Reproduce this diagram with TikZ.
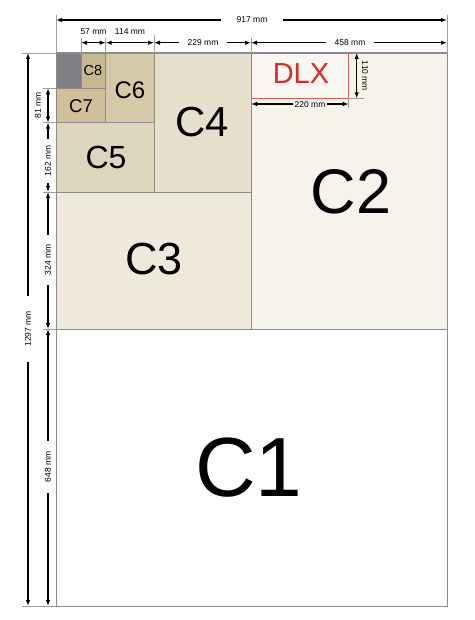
\documentclass[tikz,border=0pt]{standalone}
\usepackage{fontspec}
\setmainfont{Liberation Sans}
\usetikzlibrary{arrows.meta}
\definecolor{cgray}{HTML}{7F8083}
\definecolor{cceight}{HTML}{C9B78F}
\definecolor{ccseven}{HTML}{CFBF9A}
\definecolor{ccsix}{HTML}{D6C9A8}
\definecolor{ccfive}{HTML}{DED5BD}
\definecolor{ccfour}{HTML}{E6DFCC}
\definecolor{ccthree}{HTML}{EEE9DB}
\definecolor{cctwo}{HTML}{F6F3EB}
\definecolor{dlxfill}{HTML}{F9F5F1}
\definecolor{bordergray}{HTML}{8C8C8C}
\definecolor{extgray}{HTML}{A0A0A0}
\definecolor{dlxred}{HTML}{D42B2B}
\definecolor{dlxline}{HTML}{D86060}
\begin{document}
\begin{tikzpicture}[x=1pt,y=-1pt,
  dim/.style={line width=1.1pt,{Latex[length=6pt,width=4.5pt]}-{Latex[length=6pt,width=4.5pt]}},
  ext/.style={draw=extgray,line width=0.6pt},
  box/.style={draw=bordergray,line width=0.7pt},
  lab/.style={font=\fontsize{8.5}{9}\selectfont,inner sep=0pt},
  gap/.style={lab,fill=white,inner xsep=#1,inner ysep=3pt},
  big/.style={font=\fontsize{#1}{#1}\selectfont,inner sep=0pt}
]
\useasboundingbox (0,0) rectangle (474,620);
% boxes
\fill[white] (56,53) rectangle (447,606);
\filldraw[box,fill=cctwo] (251,53) rectangle (447,329);
\filldraw[box,fill=ccthree] (56,192) rectangle (251,329);
\filldraw[box,fill=ccfour] (154,53) rectangle (251,192);
\filldraw[box,fill=ccfive] (56,122.7) rectangle (154,192);
\filldraw[box,fill=ccsix] (105.7,53) rectangle (154,122.7);
\filldraw[box,fill=ccseven] (56,88.3) rectangle (105.7,122.7);
\filldraw[box,fill=cceight] (81,53) rectangle (105.7,88.3);
\filldraw[box,fill=cgray] (56,53) rectangle (81,88.3);
\filldraw[draw=dlxline,fill=dlxfill,line width=0.8pt] (251.5,53.4) rectangle (348.7,98.3);
\draw[draw=bordergray,line width=1pt] (56,53) rectangle (447,606);
% big labels
\node[big=84] (c1) at (249,468) {C1};
\node[big=63] (c2) at (351,192) {C2};
\node[big=45] (c3) at (154,259) {C3};
\node[big=42] (c4) at (202.5,122) {C4};
\node[big=32] (c5) at (106,157) {C5};
\node[big=24] (c6) at (130,90) {C6};
\node[big=18.5] (c7) at (81,105.7) {C7};
\node[big=14.5] (c8) at (93,70.8) {C8};
\node[big=29,text=dlxred] (dlx) at (301,74) {DLX};
% extension lines
\draw[ext] (56,15) -- (56,53);
\draw[ext] (447,15) -- (447,53);
\draw[ext] (81,38) -- (81,53);
\draw[ext] (105.7,38) -- (105.7,53);
\draw[ext] (154,35) -- (154,53);
\draw[ext] (251,38) -- (251,53);
\draw[ext] (22,53) -- (56,53);
\draw[ext] (22,606) -- (56,606);
\draw[ext] (43,88.3) -- (56,88.3);
\draw[ext] (43,122.7) -- (56,122.7);
\draw[ext] (43,192) -- (56,192);
\draw[ext] (43,329) -- (56,329);
\draw[ext] (348.7,98.3) -- (364,98.3);
\draw[ext] (348.7,98.3) -- (348.7,108);
% coordinates
\coordinate (tA) at (56,20);   \coordinate (tB) at (447,20);
\coordinate (sA) at (81,42.7); \coordinate (sB) at (105.7,42.7);
\coordinate (sC) at (154,42.7); \coordinate (sD) at (251,42.7);
\coordinate (sE) at (447,42.7);
\coordinate (lA) at (28,53);   \coordinate (lB) at (28,606);
\coordinate (mA) at (48,88.3); \coordinate (mB) at (48,122.7);
\coordinate (mC) at (48,192);  \coordinate (mD) at (48,329);
\coordinate (mE) at (48,606);
\coordinate (dA) at (356.7,53); \coordinate (dB) at (356.7,98.3);
\coordinate (eA) at (251,104);  \coordinate (eB) at (348.7,104);
% dimension lines
\draw[dim] (tA) -- (tB);
\node[gap=16pt] (l917) at (252,20) {917 mm};
\draw[dim] (sA) -- (sB);
\node[lab] (l57) at (93.5,32) {57 mm};
\draw[dim] (sB) -- (sC);
\node[lab] (l114) at (130,32) {114 mm};
\draw[dim] (sC) -- (sD);
\node[gap=9pt] (l229) at (203,43) {229 mm};
\draw[dim] (sD) -- (sE);
\node[gap=9pt] (l458) at (350,43) {458 mm};
\draw[dim] (lA) -- (lB);
\node[gap=15pt,rotate=90] (l1297) at (28,329) {1297 mm};
\draw[dim] (mA) -- (mB);
\node[lab,rotate=90] (l81) at (38,105.5) {81 mm};
\draw[dim] (mB) -- (mC);
\node[gap=7pt,rotate=90] (l162) at (48,161) {162 mm};
\draw[dim] (mC) -- (mD);
\node[gap=10pt,rotate=90] (l324) at (48,260) {324 mm};
\draw[dim] (mD) -- (mE);
\node[gap=11pt,rotate=90] (l648) at (48,467) {648 mm};
\draw[dim] (dA) -- (dB);
\node[lab,rotate=-90] (l110) at (365,76) {110 mm};
\draw[dim] (eA) -- (eB);
\node[gap=2pt,fill=cctwo,inner ysep=0.8pt] (l220) at (310,104.5) {220 mm};
\end{tikzpicture}
\end{document}
